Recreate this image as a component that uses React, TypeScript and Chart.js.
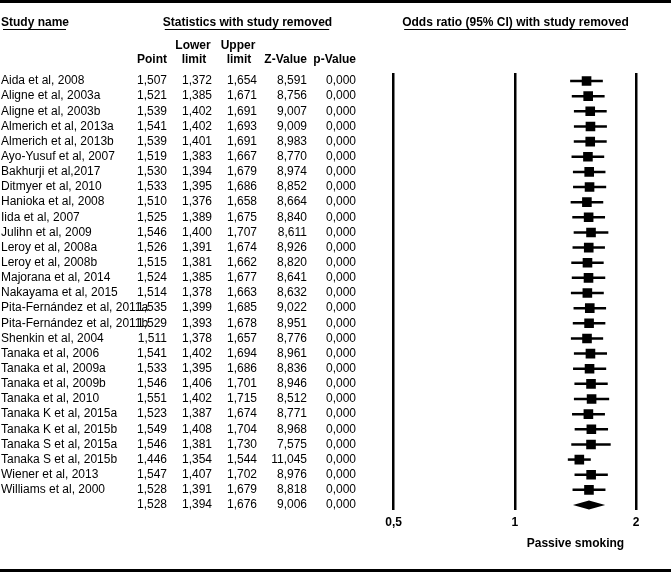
import React, { useEffect, useRef } from "react";
import { Chart, registerables } from "chart.js";

Chart.register(...registerables);

const FONT = "'Liberation Sans', Arial, Helvetica, sans-serif";

const studies = [
  "Aida et al, 2008",
  "Aligne et al, 2003a",
  "Aligne et al, 2003b",
  "Almerich et al, 2013a",
  "Almerich et al, 2013b",
  "Ayo-Yusuf et al, 2007",
  "Bakhurji et al,2017",
  "Ditmyer et al, 2010",
  "Hanioka et al, 2008",
  "Iida et al, 2007",
  "Julihn et al, 2009",
  "Leroy et al, 2008a",
  "Leroy et al, 2008b",
  "Majorana et al, 2014",
  "Nakayama et al, 2015",
  "Pita-Fernández et al, 2011a",
  "Pita-Fernández et al, 2011b",
  "Shenkin et al, 2004",
  "Tanaka et al, 2006",
  "Tanaka et al, 2009a",
  "Tanaka et al, 2009b",
  "Tanaka et al, 2010",
  "Tanaka K et al, 2015a",
  "Tanaka K et al, 2015b",
  "Tanaka S et al, 2015a",
  "Tanaka S et al, 2015b",
  "Wiener et al, 2013",
  "Williams et al, 2000",
];

const pointEst = [
  1.507, 1.521, 1.539, 1.541, 1.539, 1.519, 1.53, 1.533, 1.51, 1.525, 1.546,
  1.526, 1.515, 1.524, 1.514, 1.535, 1.529, 1.511, 1.541, 1.533, 1.546, 1.551,
  1.523, 1.549, 1.546, 1.446, 1.547, 1.528,
];
const lowerLimit = [
  1.372, 1.385, 1.402, 1.402, 1.401, 1.383, 1.394, 1.395, 1.376, 1.389, 1.4,
  1.391, 1.381, 1.385, 1.378, 1.399, 1.393, 1.378, 1.402, 1.395, 1.406, 1.402,
  1.387, 1.408, 1.381, 1.354, 1.407, 1.391,
];
const upperLimit = [
  1.654, 1.671, 1.691, 1.693, 1.691, 1.667, 1.679, 1.686, 1.658, 1.675, 1.707,
  1.674, 1.662, 1.677, 1.663, 1.685, 1.678, 1.657, 1.694, 1.686, 1.701, 1.715,
  1.674, 1.704, 1.73, 1.544, 1.702, 1.679,
];
const zValues = [
  8.591, 8.756, 9.007, 9.009, 8.983, 8.77, 8.974, 8.852, 8.664, 8.84, 8.611,
  8.926, 8.82, 8.641, 8.632, 9.022, 8.951, 8.776, 8.961, 8.836, 8.946, 8.512,
  8.771, 8.968, 7.575, 11.045, 8.976, 8.818,
];
const pValues = [
  0, 0, 0, 0, 0, 0, 0, 0, 0, 0, 0, 0, 0, 0, 0, 0, 0, 0, 0, 0, 0, 0, 0, 0, 0, 0,
  0, 0,
];

const overallPoint = 1.528;
const overallLower = 1.394;
const overallUpper = 1.676;
const overallZ = 9.006;
const overallP = 0.0;

const xTicks = [0.5, 1, 2];
const xTickLabels = ["0,5", "1", "2"];
const xAxisCaption = "Passive smoking";

const fmt = (v: number) => v.toFixed(3).replace(".", ",");

const tablePlugin = {
  id: "forestTable",
  beforeDatasetsDraw(chart: any) {
    const { ctx, scales } = chart;
    const xs = scales.x;
    const ys = scales.y;
    ctx.save();
    ctx.strokeStyle = "#000";
    ctx.lineWidth = 2.5;
    for (let i = 0; i < studies.length; i++) {
      const y = ys.getPixelForValue(i);
      ctx.beginPath();
      ctx.moveTo(xs.getPixelForValue(lowerLimit[i]), y);
      ctx.lineTo(xs.getPixelForValue(upperLimit[i]), y);
      ctx.stroke();
    }
    ctx.restore();
  },
  afterDraw(chart: any) {
    const { ctx, scales, width } = chart;
    const xs = scales.x;
    const ys = scales.y;
    ctx.save();
    ctx.fillStyle = "#000";
    ctx.strokeStyle = "#000";

    // frame lines
    ctx.fillRect(0, 0, width, 3);
    ctx.fillRect(0, 569, width, 3);

    // headers
    ctx.font = `bold 12px ${FONT}`;
    ctx.textBaseline = "middle";
    const underline = (text: string, x: number, align: string, y: number) => {
      ctx.textAlign = align;
      ctx.fillText(text, x, y);
      const w = ctx.measureText(text).width;
      const left = align === "center" ? x - w / 2 : align === "right" ? x - w : x;
      ctx.lineWidth = 1;
      ctx.beginPath();
      ctx.moveTo(left + 2, 29.5);
      ctx.lineTo(left + w - 3, 29.5);
      ctx.stroke();
    };
    underline("Study name", 1, "left", 23);
    underline("Statistics with study removed", 247.5, "center", 23);
    underline("Odds ratio (95% CI) with study removed", 515.5, "center", 23);

    ctx.textAlign = "center";
    ctx.fillText("Lower", 193, 45.5);
    ctx.fillText("Upper", 238, 45.5);
    ctx.fillText("limit", 194, 59.5);
    ctx.fillText("limit", 239, 59.5);
    ctx.textAlign = "right";
    ctx.fillText("Point", 167, 59.5);
    ctx.fillText("Z-Value", 307, 59.5);
    ctx.fillText("p-Value", 356, 59.5);

    // rows
    ctx.font = `12px ${FONT}`;
    const drawRow = (
      name: string,
      p: number,
      lo: number,
      hi: number,
      z: number,
      pv: number,
      y: number
    ) => {
      ctx.textAlign = "left";
      ctx.fillText(name, 1, y);
      ctx.textAlign = "right";
      ctx.fillText(fmt(p), 167, y);
      ctx.fillText(fmt(lo), 212, y);
      ctx.fillText(fmt(hi), 257, y);
      ctx.fillText(fmt(z), 307, y);
      ctx.fillText(fmt(pv), 356, y);
    };
    for (let i = 0; i < studies.length; i++) {
      drawRow(
        studies[i],
        pointEst[i],
        lowerLimit[i],
        upperLimit[i],
        zValues[i],
        pValues[i],
        ys.getPixelForValue(i)
      );
    }
    const oy = ys.getPixelForValue(studies.length);
    drawRow("", overallPoint, overallLower, overallUpper, overallZ, overallP, oy);

    // summary diamond
    const h = 4.5;
    ctx.beginPath();
    ctx.moveTo(xs.getPixelForValue(overallLower), oy);
    ctx.lineTo(xs.getPixelForValue(overallPoint), oy - h);
    ctx.lineTo(xs.getPixelForValue(overallUpper), oy);
    ctx.lineTo(xs.getPixelForValue(overallPoint), oy + h);
    ctx.closePath();
    ctx.fill();

    // axis caption
    ctx.font = `bold 12px ${FONT}`;
    ctx.textAlign = "center";
    const cx = (xs.getPixelForValue(1) + xs.getPixelForValue(2)) / 2;
    ctx.fillText(xAxisCaption, cx, 543.5);
    ctx.restore();
  },
};

export default function App() {
  const canvasRef = useRef<HTMLCanvasElement | null>(null);

  useEffect(() => {
    document.body.style.margin = "0";
    const canvas = canvasRef.current;
    if (!canvas) return;
    Chart.defaults.font.family = FONT;
    const chart = new Chart(canvas, {
      type: "scatter",
      data: {
        datasets: [
          {
            data: studies.map((_, i) => ({ x: pointEst[i], y: i })),
            pointStyle: "rect",
            pointRadius: 6.8,
            pointHoverRadius: 6.8,
            backgroundColor: "#000",
            borderColor: "#000",
            borderWidth: 0,
          },
        ],
      },
      options: {
        animation: false,
        responsive: false,
        events: [],
        layout: { padding: { left: 379, right: 10.5, top: 73, bottom: 32 } },
        plugins: {
          legend: { display: false },
          tooltip: { enabled: false },
          title: { display: false },
        },
        scales: {
          x: {
            type: "logarithmic",
            min: 0.46,
            max: 2.3,
            afterBuildTicks: (scale: any) => {
              scale.ticks = xTicks.map((v) => ({ value: v }));
            },
            afterFit: (scale: any) => {
              scale.height = 30;
            },
            ticks: {
              autoSkip: false,
              maxRotation: 0,
              padding: 5,
              color: "#000",
              font: { size: 12, weight: "bold", family: FONT },
              callback: (v: any) => {
                const idx = xTicks.indexOf(Number(v));
                return idx >= 0 ? xTickLabels[idx] : "";
              },
            },
            grid: {
              color: "#000",
              lineWidth: 2.5,
              drawTicks: false,
            },
            border: { display: false },
          },
          y: {
            type: "linear",
            display: false,
            reverse: true,
            min: -0.53,
            max: 28.33,
          },
        },
      },
      plugins: [tablePlugin],
    } as any);
    return () => chart.destroy();
  }, []);

  return (
    <div style={{ width: 671, height: 572, background: "#fff" }}>
      <canvas
        ref={canvasRef}
        width={671}
        height={572}
        style={{ display: "block", width: 671, height: 572 }}
      />
    </div>
  );
}
